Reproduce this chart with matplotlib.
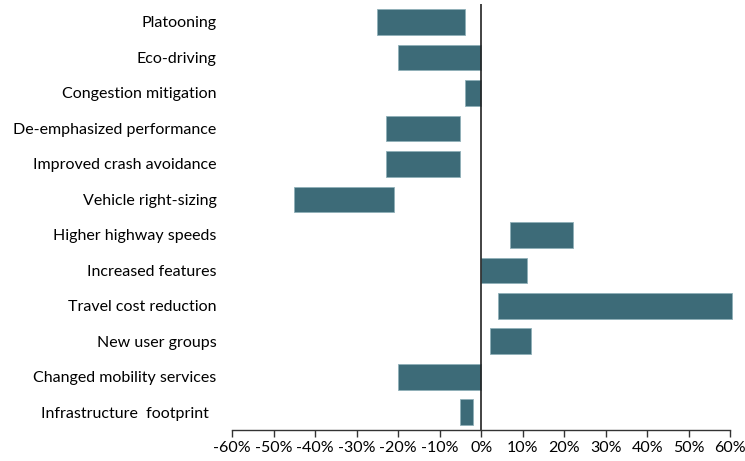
import matplotlib
matplotlib.use('Agg')
import matplotlib.pyplot as plt
import numpy as np

plt.rcParams['font.family'] = ['Lato', 'DejaVu Sans']

categories = ['Platooning', 'Eco-driving', 'Congestion mitigation',
              'De-emphasized performance', 'Improved crash avoidance',
              'Vehicle right-sizing', 'Higher highway speeds',
              'Increased features', 'Travel cost reduction',
              'New user groups', 'Changed mobility services',
              'Infrastructure  footprint  ']
low = [-25, -20, -4, -23, -23, -45, 7, 0, 4, 2, -20, -5]
high = [-4, 0, 0, -5, -5, -21, 22, 11, 60.5, 12, 0, -2]
xticks = [-60, -50, -40, -30, -20, -10, 0, 10, 20, 30, 40, 50, 60]

fig = plt.figure(figsize=(7.45, 4.61), dpi=100)
ax = fig.add_axes([0.3114, 0.0672, 0.669, 0.924])

y = np.arange(len(categories))
widths = np.array(high) - np.array(low)
ax.barh(y, widths, left=low, height=0.72, color='#3d6b78',
        edgecolor='#8fb0b8', linewidth=0.6, clip_on=False)

ax.axvline(0, color='#222222', linewidth=1.2)

ax.set_xlim(-60, 60)
ax.set_ylim(len(categories) - 0.5, -0.5)
ax.set_xticks(xticks)
ax.set_xticklabels([f'{t}%' for t in xticks], fontsize=11.5)
ax.set_yticks(y)
ax.set_yticklabels(categories, fontsize=11.5)
ax.tick_params(axis='y', length=0, pad=11)
ax.tick_params(axis='x', direction='out', length=5, width=1, color='#333333', pad=3)

for s in ['top', 'right', 'left']:
    ax.spines[s].set_visible(False)
ax.spines['bottom'].set_color('#333333')
ax.spines['bottom'].set_linewidth(1)

fig.savefig('out.png', dpi=100)
